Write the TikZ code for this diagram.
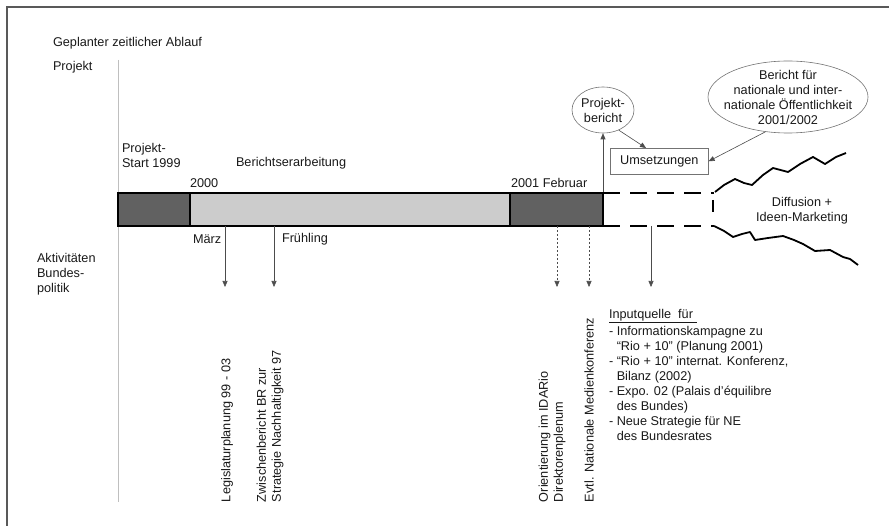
\documentclass[tikz,border=0pt]{standalone}
\usepackage{fontspec}
\setmainfont{Liberation Sans}
\usetikzlibrary{arrows.meta,shapes.geometric,calc}
\begin{document}
\begin{tikzpicture}[x=1pt,y=-1pt,
  txt/.style={font=\fontsize{12.7}{15}\selectfont, inner sep=0pt, outer sep=0pt, text=black!90},
  arr/.style={draw=black!70, line width=0.6pt, -{Triangle[length=6pt,width=5pt]}},
  dotarr/.style={arr, dash pattern=on 2pt off 2pt},
  seg/.style={draw=black, line width=1.5pt, minimum height=33pt, inner sep=0pt, outer sep=0pt, anchor=north west},
  thin/.style={draw=black!55, line width=0.6pt},
  dashline/.style={draw=black, line width=1.8pt, dash pattern=on 17pt off 10pt},
  wave/.style={draw=black, line width=1.8pt, line join=round}]
\useasboundingbox (0,0) rectangle (889,526);
% frame
\draw[black!65, line width=1.3pt] (7,526) -- (7,7) -- (889,7);
\draw[black!25, line width=0.7pt] (118,60) -- (118,502);
% headings
\node[txt, anchor=west] (title) at (53,43) {Geplanter zeitlicher Ablauf};
\node[txt, anchor=west] (proj) at (53,67) {Projekt};
\node[txt, anchor=west, align=left] (akt) at (37,274) {Aktivitäten\\Bundes-\\politik};
% bar
\node[seg, fill=black!62, minimum width=72pt] (s1) at (118,193) {};
\node[seg, fill=black!20, minimum width=320pt] (s2) at (190,193) {};
\node[seg, fill=black!62, minimum width=93pt] (s3) at (510,193) {};
% labels above/below bar
\node[txt, anchor=west, align=left] (start) at (122,155) {Projekt-\\Start 1999};
\node[txt, anchor=west] (ber) at (236,163) {Berichtserarbeitung};
\node[txt, anchor=west] (y2000) at (190,183) {2000};
\node[txt, anchor=west] (feb) at (511,183) {2001 Februar};
\node[txt, anchor=west] (maerz) at (193,239) {März};
\node[txt, anchor=west] (fr) at (282,239) {Frühling};
% down arrows
\coordinate (a1) at (225,287);
\coordinate (a2) at (274,287);
\coordinate (a3) at (557,287);
\coordinate (a4) at (589,287);
\coordinate (a5) at (651,287);
\draw[arr] (s2.south -| a1) -- (a1);
\draw[arr] (s2.south -| a2) -- (a2);
\draw[dotarr] (s3.south -| a3) -- (a3);
\draw[dotarr] (s3.south -| a4) -- (a4);
\draw[arr] (s3.south -| a5) -- (a5);
% rotated texts
\node[txt, rotate=90, anchor=west] (leg) at (227,502) {Legislaturplanung 99 - 03};
\node[txt, rotate=90, anchor=west, align=left] (zw) at (270,502) {Zwischenbericht BR zur\\Strategie Nachhaltigkeit 97};
\node[txt, rotate=90, anchor=west, align=left] (ori) at (552,502) {Orientierung im IDARio\\Direktorenplenum};
\node[txt, rotate=90, anchor=west] (evt) at (589,502) {Evtl. Nationale Medienkonferenz};
% input list
\node[txt, anchor=north west, align=left] (inp) at (609,309) {\underline{Inputquelle\ \ für\ }\\[2pt]
- Informationskampagne zu\\
\hphantom{- }“Rio + 10” (Planung 2001)\\
- “Rio + 10” internat. Konferenz,\\
\hphantom{- }Bilanz (2002)\\
- Expo. 02 (Palais d’équilibre\\
\hphantom{- }des Bundes)\\
- Neue Strategie für NE\\
\hphantom{- }des Bundesrates};
% ellipses and box
\node[thin, ellipse, minimum width=62pt, minimum height=46pt, inner sep=0pt] (pb) at (603,110) {};
\node[txt, align=center] (pbt) at (pb.center) {Projekt-\\bericht};
\node[thin, ellipse, minimum width=160pt, minimum height=72pt, inner sep=0pt] (be) at (788,97) {};
\node[txt, align=center] (bet) at (be.center) {Bericht für\\nationale und inter-\\nationale Öffentlichkeit\\2001/2002};
\node[thin, minimum width=98pt, minimum height=26pt, inner sep=0pt, anchor=north west] (um) at (610,148) {};
\node[txt] (umt) at (um.center) {Umsetzungen};
\draw[arr] (s3.north east) -- (pb.south);
\coordinate (umtop) at (646,148);
\draw[arr] (pb.-52) -- (umtop);
\draw[arr] (be.-123) -- (um.east);
% dashed extension
\coordinate (dt) at (714,193);
\coordinate (db) at (714,226);
\draw[dashline] (s3.north east) -- (dt);
\draw[dashline] (s3.south east) -- (db);
\draw[draw=black, line width=1.8pt] (713,200) -- (713,212);
% waves
\draw[wave] (715,192) -- (724,185) -- (735,179) -- (744,183) -- (752,185) -- (763,175) -- (773,168) -- (788,172) -- (800,164) -- (813,157) -- (825,164) -- (836,157) -- (846,153);
\draw[wave] (db) -- (724,231) -- (733,237) -- (742,234) -- (750,232) -- (755,240) -- (768,238) -- (783,236) -- (794,240) -- (803,244) -- (815,251) -- (830,250) -- (843,257) -- (850,259) -- (858,265);
\node[txt, align=center] (diff) at (802,211) {Diffusion +\\Ideen-Marketing};
\end{tikzpicture}
\end{document}
